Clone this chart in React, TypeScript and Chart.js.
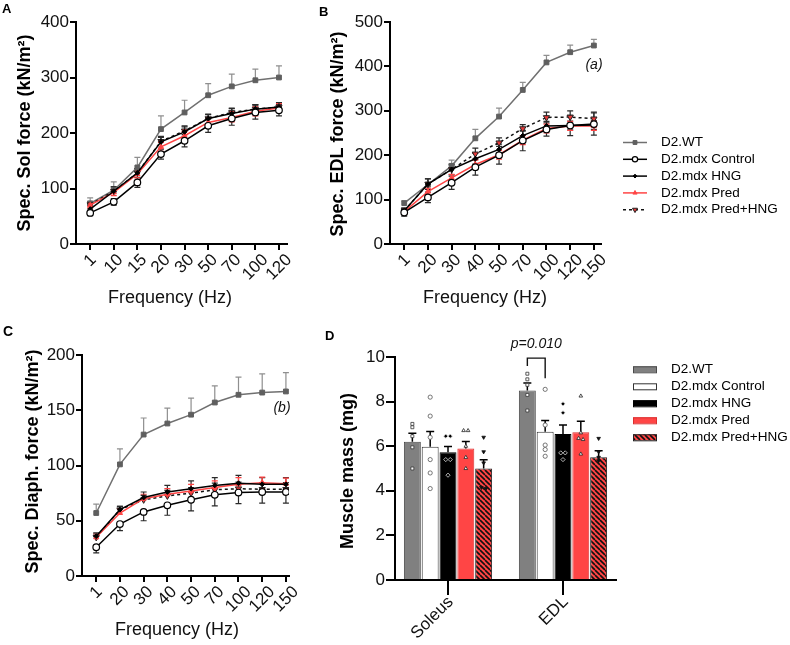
import React, { useEffect, useRef } from 'react';
import { Chart, registerables } from 'chart.js';
import { drawPoint } from 'chart.js/helpers';

Chart.register(...registerables);

const FONT = "'Liberation Sans', Arial, sans-serif";

const GROUPS = ['D2.WT', 'D2.mdx Control', 'D2.mdx HNG', 'D2.mdx Pred', 'D2.mdx Pred+HNG'];

// A: soleus specific force (kN/m²), mean and SEM per stimulation frequency
const solFreqLabels = ['1', '10', '15', '20', '30', '50', '70', '100', '120'];
const solWT = [73, 97, 138, 207, 237, 268, 284, 295, 300];
const solWTSem = [10, 15, 18, 24, 22, 21, 22, 20, 21];
const solCtrl = [56, 76, 111, 162, 186, 213, 226, 237, 241];
const solCtrlSem = [5, 6, 9, 9, 11, 12, 12, 12, 10];
const solHNG = [63, 95, 128, 184, 202, 226, 235, 243, 247];
const solHNGSem = [6, 8, 8, 8, 9, 8, 9, 8, 8];
const solPred = [70, 93, 126, 175, 195, 219, 228, 239, 245];
const solPredSem = [5, 6, 7, 8, 8, 8, 8, 8, 8];
const solPredHNG = [71, 95, 128, 185, 204, 226, 237, 243, 247];
const solPredHNGSem = [6, 8, 8, 9, 9, 7, 8, 8, 8];

// B: EDL specific force (kN/m²)
const edlFreqLabels = ['1', '20', '30', '40', '50', '70', '100', '120', '150'];
const edlWT = [92, 134, 176, 238, 287, 347, 409, 432, 447];
const edlWTSem = [5, 12, 13, 20, 19, 17, 16, 16, 14];
const edlCtrl = [71, 105, 138, 173, 200, 233, 258, 267, 270];
const edlCtrlSem = [8, 12, 15, 18, 20, 23, 15, 23, 25];
const edlHNG = [75, 135, 168, 192, 213, 244, 266, 267, 268];
const edlHNGSem = [6, 12, 12, 12, 12, 10, 10, 10, 10];
const edlPred = [73, 118, 149, 179, 201, 234, 260, 266, 266];
const edlPredSem = [5, 8, 8, 10, 10, 10, 10, 10, 10];
const edlPredHNG = [75, 135, 168, 203, 228, 260, 285, 286, 282];
const edlPredHNGSem = [6, 12, 10, 13, 11, 9, 12, 14, 15];

// C: diaphragm specific force (kN/m²)
const diaFreqLabels = ['1', '20', '30', '40', '50', '70', '100', '120', '150'];
const diaWT = [57, 101, 128, 138, 146, 157, 164, 166, 167];
const diaWTSem = [8, 14, 15, 14, 15, 15, 16, 17, 17];
const diaCtrl = [26, 47, 58, 64, 69, 73.5, 75.5, 76, 76];
const diaCtrlSem = [5, 6, 8, 9, 10, 10, 10, 10, 10];
const diaHNG = [36, 60, 71, 76, 79, 82, 84, 83, 83];
const diaHNGSem = [3, 3, 5, 6, 7, 7, 7, 6, 6];
const diaPred = [35, 57, 70, 74, 77, 80, 83, 84.5, 83.5];
const diaPredSem = [3, 4, 4, 5, 6, 6, 6, 5, 5];
const diaPredHNG = [35, 60, 69, 72.5, 75, 78, 79, 78.5, 78.5];
const diaPredHNGSem = [3, 3, 4, 5, 5, 6, 6, 6, 6];

// D: muscle mass (mg), mean, SEM and individual animals
const massMuscles = ['Soleus', 'EDL'];
const massWT = [6.2, 8.5];
const massWTSem = [0.38, 0.33];
const massCtrl = [5.98, 6.65];
const massCtrlSem = [0.68, 0.5];
const massHNG = [5.73, 6.55];
const massHNGSem = [0.26, 0.4];
const massPred = [5.9, 6.62];
const massPredSem = [0.31, 0.5];
const massPredHNG = [5.0, 5.5];
const massPredHNGSem = [0.39, 0.3];
const massWTPts = [[7.0, 6.85, 6.45, 5.95, 5.0], [9.25, 9.0, 8.75, 8.3, 7.6]];
const massCtrlPts = [[8.2, 7.35, 6.4, 5.4, 4.8, 4.1], [8.55, 6.95, 6.05, 5.85, 5.55]];
const massHNGPts = [[6.45, 6.45, 5.4, 5.4, 4.7], [7.9, 7.5, 5.7, 5.7, 5.4]];
const massPredPts = [[6.7, 6.7, 6.0, 5.5, 5.0], [8.25, 6.6, 6.35, 6.3, 5.65]];
const massPredHNGPts = [[6.4, 5.75, 5.25, 4.15, 4.1], [6.35, 5.75, 5.5, 5.35]];
const pValueText = 'p=0.010';

const RED = '#ff4545';

const LINE_STYLES = [
  { line: '#707070', fill: '#5f5f5f', edge: '#5f5f5f', shape: 'rect', r: 3.4, rot: 0, dash: [], err: '#8f8f8f', pbw: 1 },
  { line: '#000', fill: '#fff', edge: '#000', shape: 'circle', r: 3.3, rot: 0, dash: [], err: '#2a2a2a', pbw: 1.2 },
  { line: '#000', fill: '#000', edge: '#000', shape: 'rectRot', r: 2.4, rot: 0, dash: [], err: '#2a2a2a', pbw: 1 },
  { line: RED, fill: RED, edge: RED, shape: 'triangle', r: 3, rot: 0, dash: [], err: RED, pbw: 1 },
  { line: '#111', fill: '#e63a3a', edge: '#222', shape: 'triangle', r: 3.6, rot: 180, dash: [3, 3], err: '#2a2a2a', pbw: 1 },
];

const zeroPad = (s: any) => {
  s.paddingTop = 0;
  s.paddingBottom = 0;
  s.paddingLeft = 0;
  s.paddingRight = 0;
};

const axisLine = { display: true, color: '#000', width: 2 };
const tickMarks = (len: number) => ({
  display: true,
  offset: false,
  drawOnChartArea: false,
  drawTicks: true,
  tickLength: len,
  tickWidth: 2,
  tickColor: '#000',
  color: '#000',
  lineWidth: 2,
});

// Free text (panel letters, axis titles, notes)
const textPlugin = {
  id: 'panelText',
  afterDraw(chart: any, _a: any, opts: any) {
    const ctx = chart.ctx;
    (opts.items || []).forEach((t: any) => {
      ctx.save();
      ctx.translate(t.x, t.y);
      if (t.rotate) ctx.rotate(t.rotate);
      ctx.font = t.font;
      ctx.fillStyle = t.color || '#000';
      ctx.textAlign = t.align || 'center';
      ctx.textBaseline = 'middle';
      ctx.fillText(t.text, 0, 0);
      ctx.restore();
    });
  },
};

// 45° category labels under the x axis
const slantPlugin = {
  id: 'slantTicks',
  afterDraw(chart: any, _a: any, o: any) {
    const { ctx, chartArea } = chart;
    const xs = chart.scales.x;
    ctx.save();
    ctx.font = `${o.size}px ${FONT}`;
    ctx.fillStyle = '#111';
    ctx.textAlign = 'center';
    ctx.textBaseline = 'middle';
    o.labels.forEach((lab: string, i: number) => {
      const px = xs.getPixelForValue(i);
      const w = (ctx.measureText(lab).width + o.size * 0.72) / Math.SQRT2;
      const cx = o.anchor === 'right' ? px + o.shift - w / 2 : px + o.shift;
      const cy = chartArea.bottom + o.gap + w / 2;
      ctx.save();
      ctx.translate(cx, cy);
      ctx.rotate(-Math.PI / 4);
      ctx.fillText(lab, 0, 0);
      ctx.restore();
    });
    ctx.restore();
  },
};

// SEM bars read from each dataset's `errors`
function drawErrors(chart: any) {
  const ctx = chart.ctx;
  const ys = chart.scales.y;
  chart.data.datasets.forEach((ds: any, d: number) => {
    if (!ds.errors) return;
    const meta = chart.getDatasetMeta(d);
    ctx.save();
    ctx.strokeStyle = ds.errColor;
    ctx.lineWidth = ds.errWidth || 1.2;
    const cap = ds.capHalf || 3;
    meta.data.forEach((el: any, i: number) => {
      const v = ds.data[i].y;
      const e = ds.errors[i];
      const x = el.x;
      const y0 = ys.getPixelForValue(v);
      const segs: number[] = [];
      if (ds.errDir === 'up' || ds.errDir === 'both') segs.push(ys.getPixelForValue(v + e));
      if (ds.errDir === 'down' || ds.errDir === 'both') segs.push(ys.getPixelForValue(v - e));
      segs.forEach((yy) => {
        ctx.beginPath();
        ctx.moveTo(x, y0);
        ctx.lineTo(x, yy);
        ctx.moveTo(x - cap, yy);
        ctx.lineTo(x + cap, yy);
        ctx.stroke();
      });
    });
    ctx.restore();
  });
}

const errBehindPlugin = {
  id: 'errBehind',
  beforeDatasetsDraw(chart: any, _a: any, o: any) {
    if (o.layer === 'behind') drawErrors(chart);
  },
  afterDatasetsDraw(chart: any, _a: any, o: any) {
    if (o.layer === 'front') drawErrors(chart);
  },
};

// Key for the frequency panels (line + marker samples)
const lineKeyPlugin = {
  id: 'lineKey',
  afterDraw(chart: any, _a: any, o: any) {
    if (!o.show) return;
    const ctx = chart.ctx;
    GROUPS.forEach((name, i) => {
      const st = LINE_STYLES[i];
      const y = o.y0 + i * o.dy;
      ctx.save();
      ctx.strokeStyle = st.line;
      ctx.lineWidth = 1.5;
      ctx.setLineDash(st.dash);
      ctx.beginPath();
      ctx.moveTo(o.x0, y);
      ctx.lineTo(o.x0 + o.len, y);
      ctx.stroke();
      ctx.setLineDash([]);
      ctx.fillStyle = st.fill;
      ctx.strokeStyle = st.edge;
      ctx.lineWidth = st.pbw;
      drawPoint(ctx, { pointStyle: st.shape, rotation: st.rot, radius: st.r * 0.8, borderWidth: st.pbw } as any, o.x0 + o.len / 2, y);
      ctx.fillStyle = '#000';
      ctx.font = `${o.size}px ${FONT}`;
      ctx.textAlign = 'left';
      ctx.textBaseline = 'middle';
      ctx.fillText(name, o.tx, y);
      ctx.restore();
    });
  },
};

function lineConfig(p: any) {
  const datasets = p.series.map((s: any, g: number) => {
    const st = LINE_STYLES[g];
    return {
      label: GROUPS[g],
      data: s.data.map((v: number, i: number) => ({ x: i, y: v })),
      borderColor: st.line,
      borderWidth: 1.5,
      borderDash: st.dash,
      pointStyle: st.shape,
      pointRadius: st.r,
      pointRotation: st.rot,
      pointBackgroundColor: st.fill,
      pointBorderColor: st.edge,
      pointBorderWidth: st.pbw,
      fill: false,
      tension: 0,
      order: g === 0 ? 10 : 0,
      errors: s.sem,
      errDir: s.dir,
      errColor: st.err,
      capHalf: 3,
    };
  });
  return {
    type: 'line',
    data: { datasets },
    plugins: [errBehindPlugin, textPlugin, slantPlugin, lineKeyPlugin],
    options: {
      responsive: false,
      animation: false,
      devicePixelRatio: 1,
      events: [],
      layout: { autoPadding: false, padding: p.pad },
      plugins: {
        legend: { display: false },
        tooltip: { enabled: false },
        errBehind: { layer: 'behind' },
        panelText: { items: p.texts },
        slantTicks: { labels: p.labels, size: 17, gap: 9, anchor: 'center', shift: 0 },
        lineKey: p.key || { show: false },
      },
      scales: {
        x: {
          type: 'linear',
          bounds: 'data',
          offset: false,
          min: -0.6,
          max: p.xMax,
          afterBuildTicks: (s: any) => {
            s.ticks = p.labels.map((_: string, i: number) => ({ value: i }));
          },
          afterFit: (s: any) => {
            s.height = p.xH;
            zeroPad(s);
          },
          ticks: { display: false },
          grid: tickMarks(6),
          border: axisLine,
        },
        y: {
          bounds: 'data',
          min: 0,
          max: p.yMax,
          afterFit: (s: any) => {
            s.width = p.yW;
            zeroPad(s);
          },
          ticks: { stepSize: p.yStep, color: '#111', font: { family: FONT, size: 17 }, padding: 1 },
          grid: tickMarks(6),
          border: axisLine,
        },
      },
    },
  };
}

function hatchPattern(): CanvasPattern | string {
  const c = document.createElement('canvas');
  c.width = 5;
  c.height = 5;
  const g = c.getContext('2d');
  if (!g) return RED;
  g.fillStyle = RED;
  g.fillRect(0, 0, 5, 5);
  g.strokeStyle = '#111';
  g.lineWidth = 1.6;
  g.beginPath();
  for (const k of [-5, 0, 5]) {
    g.moveTo(k, 0);
    g.lineTo(k + 5, 5);
  }
  g.stroke();
  return g.createPattern(c, 'repeat') || RED;
}

// Individual animals drawn on each bar
const dotsPlugin = {
  id: 'barDots',
  afterDatasetsDraw(chart: any) {
    const ctx = chart.ctx;
    const ys = chart.scales.y;
    chart.data.datasets.forEach((ds: any, d: number) => {
      const meta = chart.getDatasetMeta(d);
      meta.data.forEach((el: any, i: number) => {
        const vals: number[] = ds.points[i];
        // spread near-equal values side by side
        const order = vals.map((v, j) => ({ v, j })).sort((a, b) => b.v - a.v);
        const clusters: any[][] = [];
        order.forEach((o) => {
          const last = clusters[clusters.length - 1];
          if (last && Math.abs(last[0].v - o.v) < 0.12) last.push(o);
          else clusters.push([o]);
        });
        clusters.forEach((cl) => {
          cl.forEach((o, k) => {
            const x = el.x + (k - (cl.length - 1) / 2) * 4.5;
            const y = ys.getPixelForValue(o.v);
            ctx.save();
            ctx.fillStyle = ds.dotFill;
            ctx.strokeStyle = ds.dotEdge;
            ctx.lineWidth = 0.8;
            drawPoint(ctx, { pointStyle: ds.dotShape, rotation: ds.dotRot, radius: 2.1, borderWidth: 0.8 } as any, x, y);
            ctx.restore();
          });
        });
      });
    });
  },
};

// p-value bracket between D2.WT and D2.mdx Control for EDL
const bracketPlugin = {
  id: 'pBracket',
  afterDraw(chart: any) {
    const ctx = chart.ctx;
    const ys = chart.scales.y;
    const a = chart.getDatasetMeta(0).data[1];
    const b = chart.getDatasetMeta(1).data[1];
    if (!a || !b) return;
    const top = ys.getPixelForValue(9.95);
    ctx.save();
    ctx.strokeStyle = '#111';
    ctx.lineWidth = 1.4;
    ctx.beginPath();
    ctx.moveTo(a.x, ys.getPixelForValue(9.6));
    ctx.lineTo(a.x, top);
    ctx.lineTo(b.x, top);
    ctx.lineTo(b.x, ys.getPixelForValue(9.05));
    ctx.stroke();
    ctx.font = `italic 14px ${FONT}`;
    ctx.fillStyle = '#111';
    ctx.textAlign = 'center';
    ctx.textBaseline = 'middle';
    ctx.fillText(pValueText, (a.x + b.x) / 2, top - 14);
    ctx.restore();
  },
};

const barKeyPlugin = {
  id: 'barKey',
  afterDraw(chart: any, _a: any, o: any) {
    const ctx = chart.ctx;
    chart.data.datasets.forEach((ds: any, i: number) => {
      const y = o.y0 + i * o.dy;
      ctx.save();
      ctx.fillStyle = ds.backgroundColor;
      ctx.fillRect(o.x0, y - 3, o.w, 6);
      ctx.strokeStyle = ds.borderColor;
      ctx.lineWidth = 1;
      ctx.strokeRect(o.x0 + 0.5, y - 3 + 0.5, o.w - 1, 6);
      ctx.fillStyle = '#000';
      ctx.font = `${o.size}px ${FONT}`;
      ctx.textAlign = 'left';
      ctx.textBaseline = 'middle';
      ctx.fillText(ds.label, o.tx, y);
      ctx.restore();
    });
  },
};

function barConfig() {
  const hatch = hatchPattern();
  const spec = [
    { v: massWT, e: massWTSem, pts: massWTPts, bg: '#808080', bd: '#4a4a4a', shape: 'rect', rot: 0, df: '#fff', de: '#333' },
    { v: massCtrl, e: massCtrlSem, pts: massCtrlPts, bg: '#ffffff', bd: '#333', shape: 'circle', rot: 0, df: '#fff', de: '#555' },
    { v: massHNG, e: massHNGSem, pts: massHNGPts, bg: '#000000', bd: '#000', shape: 'rectRot', rot: 0, df: '#000', de: '#ddd' },
    { v: massPred, e: massPredSem, pts: massPredPts, bg: RED, bd: '#d93030', shape: 'triangle', rot: 0, df: '#fff', de: '#222' },
    { v: massPredHNG, e: massPredHNGSem, pts: massPredHNGPts, bg: hatch, bd: '#222', shape: 'triangle', rot: 180, df: '#111', de: '#111' },
  ];
  const datasets = spec.map((s, g) => ({
    label: GROUPS[g],
    data: s.v.map((v, i) => ({ x: i, y: v })),
    backgroundColor: s.bg,
    borderColor: s.bd,
    borderWidth: 1,
    barPercentage: 0.95,
    categoryPercentage: 0.775,
    errors: s.e,
    errDir: 'up',
    errColor: '#000',
    errWidth: 1.5,
    capHalf: 4,
    points: s.pts,
    dotShape: s.shape,
    dotRot: s.rot,
    dotFill: s.df,
    dotEdge: s.de,
  }));
  return {
    type: 'bar',
    data: { datasets },
    plugins: [errBehindPlugin, dotsPlugin, bracketPlugin, textPlugin, slantPlugin, barKeyPlugin],
    options: {
      responsive: false,
      animation: false,
      devicePixelRatio: 1,
      events: [],
      layout: { autoPadding: false, padding: { left: 0, top: 37, right: 174, bottom: 0 } },
      plugins: {
        legend: { display: false },
        tooltip: { enabled: false },
        errBehind: { layer: 'front' },
        panelText: {
          items: [
            { text: 'D', x: 25, y: 16.5, font: `bold 13px ${FONT}`, align: 'left' },
            { text: 'Muscle mass (mg)', x: 48, y: 151, font: `bold 18px ${FONT}`, rotate: -Math.PI / 2 },
          ],
        },
        slantTicks: { labels: massMuscles, size: 17, gap: 15, anchor: 'right', shift: 7 },
        barKey: { x0: 333, w: 24, y0: 49.3, dy: 17, tx: 371, size: 13.5 },
      },
      scales: {
        x: {
          type: 'linear',
          bounds: 'data',
          offset: false,
          min: -0.461,
          max: 1.461,
          afterBuildTicks: (s: any) => {
            s.ticks = massMuscles.map((_, i) => ({ value: i }));
          },
          afterFit: (s: any) => {
            s.height = 65;
            zeroPad(s);
          },
          ticks: { display: false },
          grid: tickMarks(15),
          border: axisLine,
        },
        y: {
          bounds: 'data',
          min: 0,
          max: 10,
          afterFit: (s: any) => {
            s.width = 95;
            zeroPad(s);
          },
          ticks: { stepSize: 2, color: '#111', font: { family: FONT, size: 17 }, padding: 1 },
          grid: tickMarks(9),
          border: axisLine,
        },
      },
    },
  };
}

const configA = () =>
  lineConfig({
    labels: solFreqLabels,
    series: [
      { data: solWT, sem: solWTSem, dir: 'up' },
      { data: solCtrl, sem: solCtrlSem, dir: 'both' },
      { data: solHNG, sem: solHNGSem, dir: 'up' },
      { data: solPred, sem: solPredSem, dir: 'both' },
      { data: solPredHNG, sem: solPredHNGSem, dir: 'up' },
    ],
    yMax: 400,
    yStep: 100,
    xMax: 8.34,
    yW: 76,
    xH: 76,
    pad: { left: 0, top: 22, right: 13, bottom: 0 },
    texts: [
      { text: 'A', x: 2, y: 9, font: `bold 13px ${FONT}`, align: 'left' },
      { text: 'Spec. Sol force (kN/m²)', x: 25, y: 133, font: `bold 18px ${FONT}`, rotate: -Math.PI / 2 },
      { text: 'Frequency (Hz)', x: 170, y: 298, font: `18px ${FONT}`, color: '#111' },
    ],
  });

const configB = () =>
  lineConfig({
    labels: edlFreqLabels,
    series: [
      { data: edlWT, sem: edlWTSem, dir: 'up' },
      { data: edlCtrl, sem: edlCtrlSem, dir: 'both' },
      { data: edlHNG, sem: edlHNGSem, dir: 'both' },
      { data: edlPred, sem: edlPredSem, dir: 'both' },
      { data: edlPredHNG, sem: edlPredHNGSem, dir: 'up' },
    ],
    yMax: 500,
    yStep: 100,
    xMax: 8.3,
    yW: 90,
    xH: 76,
    pad: { left: 0, top: 22, right: 189, bottom: 0 },
    texts: [
      { text: 'B', x: 19, y: 12, font: `bold 13px ${FONT}`, align: 'left' },
      { text: 'Spec. EDL force (kN/m²)', x: 38, y: 134, font: `bold 18px ${FONT}`, rotate: -Math.PI / 2 },
      { text: 'Frequency (Hz)', x: 185, y: 298, font: `18px ${FONT}`, color: '#111' },
      { text: '(a)', x: 294, y: 65, font: `italic 14px ${FONT}`, color: '#111' },
    ],
    key: { show: true, x0: 323, len: 24, tx: 361, y0: 142.5, dy: 16.8, size: 13.5 },
  });

const configC = () =>
  lineConfig({
    labels: diaFreqLabels,
    series: [
      { data: diaWT, sem: diaWTSem, dir: 'up' },
      { data: diaCtrl, sem: diaCtrlSem, dir: 'down' },
      { data: diaHNG, sem: diaHNGSem, dir: 'up' },
      { data: diaPred, sem: diaPredSem, dir: 'up' },
      { data: diaPredHNG, sem: diaPredHNGSem, dir: 'up' },
    ],
    yMax: 200,
    yStep: 50,
    xMax: 8.13,
    yW: 82,
    xH: 69,
    pad: { left: 0, top: 35, right: 11, bottom: 0 },
    texts: [
      { text: 'C', x: 3, y: 12.5, font: `bold 14px ${FONT}`, align: 'left' },
      { text: 'Spec. Diaph. force (kN/m²)', x: 33, y: 141.5, font: `bold 18px ${FONT}`, rotate: -Math.PI / 2 },
      { text: 'Frequency (Hz)', x: 177, y: 310, font: `18px ${FONT}`, color: '#111' },
      { text: '(b)', x: 282, y: 88, font: `italic 14px ${FONT}`, color: '#111' },
    ],
  });

function Panel(props: { make: () => any; left: number; top: number; width: number; height: number }) {
  const ref = useRef<HTMLCanvasElement>(null);
  useEffect(() => {
    if (!ref.current) return;
    const chart = new Chart(ref.current, props.make());
    return () => chart.destroy();
  }, []);
  return (
    <canvas
      ref={ref}
      width={props.width}
      height={props.height}
      style={{ position: 'absolute', left: props.left, top: props.top, width: props.width, height: props.height }}
    />
  );
}

export default function App() {
  return (
    <div style={{ position: 'absolute', left: 0, top: 0, width: 790, height: 645, background: '#fff', overflow: 'hidden' }}>
      <Panel make={configA} left={0} top={0} width={300} height={320} />
      <Panel make={configB} left={300} top={0} width={490} height={320} />
      <Panel make={configC} left={0} top={320} width={300} height={325} />
      <Panel make={barConfig} left={300} top={320} width={490} height={325} />
    </div>
  );
}
